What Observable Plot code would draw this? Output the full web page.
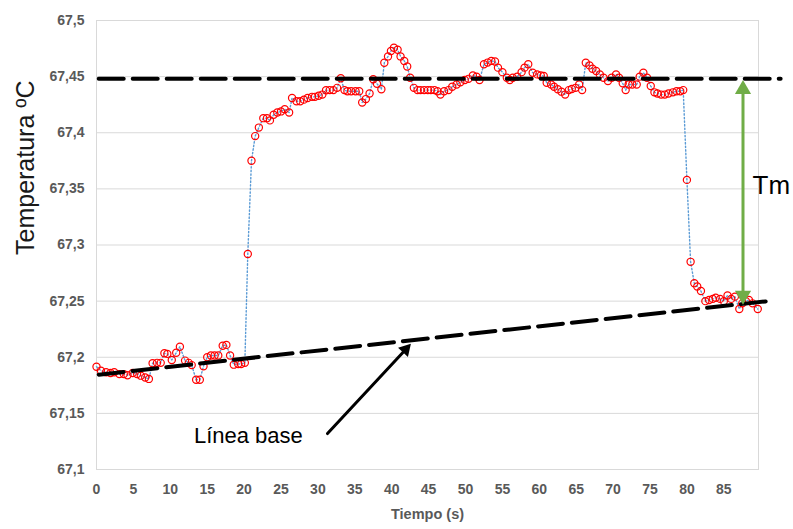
<!DOCTYPE html>
<html>
<head>
<meta charset="utf-8">
<script src="https://cdn.jsdelivr.net/npm/d3@7"></script>
<script src="https://cdn.jsdelivr.net/npm/@observablehq/plot@0.6"></script>
<style>
  html, body { margin: 0; padding: 0; background: #fff; }
  #chart svg { display: block; }
</style>
</head>
<body>
<div id="chart"></div>
<script>
// ---- Data ----
const timeS = [
  0, 0.6, 1.3, 1.9, 2.4, 3.1, 3.7, 4.2, 4.9, 5.5,
  6.0, 6.6, 7.1, 7.6, 8.2, 8.7, 9.2, 9.6, 10.2, 10.8,
  11.3, 12.0, 12.5, 12.9, 13.5, 14.0, 14.5, 15.0, 15.5, 16.0,
  16.5, 17.1, 17.6, 18.1, 18.6, 19.2, 19.6, 20.1, 20.5, 21.0,
  21.5, 22.0, 22.6, 23.1, 23.5, 24.0, 24.5, 25.0, 25.5, 26.1,
  26.5, 27.1, 27.6, 28.1, 28.6, 29.2, 29.6, 30.1, 30.6, 31.1,
  31.6, 32.1, 32.6, 33.1, 33.6, 34.0, 34.5, 35.1, 35.6, 36.0,
  36.5, 37.0, 37.5, 38.0, 38.6, 39.0, 39.5, 39.9, 40.3, 40.8,
  41.2, 41.7, 42.1, 42.5, 43.0, 43.5, 43.9, 44.4, 44.9, 45.3,
  45.8, 46.2, 46.6, 47.1, 47.7, 48.2, 48.8, 49.3, 49.9, 50.4,
  51.0, 51.5, 51.9, 52.5, 53.0, 53.5, 54.0, 54.4, 55.0, 55.6,
  56.0, 56.4, 57.0, 57.6, 58.0, 58.5, 59.1, 59.7, 60.2, 60.6,
  61.0, 61.6, 62.0, 62.5, 63.0, 63.5, 64.0, 64.4, 64.9, 65.4,
  65.8, 66.3, 66.8, 67.2, 67.7, 68.2, 68.7, 69.3, 69.8, 70.4,
  70.8, 71.3, 71.7, 72.1, 72.6, 73.2, 73.6, 74.1, 74.6, 75.1,
  75.6, 76.0, 76.5, 77.0, 77.5, 78.1, 78.6, 79.1, 79.5, 80.0,
  80.5, 81.0, 81.4, 81.9, 82.5, 83.0, 83.5, 83.9, 84.5, 85.0,
  85.5, 86.0, 86.5, 87.1, 87.5, 88.0, 88.4, 88.9, 89.6
];
const temperature = [
  67.1916, 67.188, 67.1866, 67.186, 67.1866, 67.185, 67.185, 67.184, 67.186, 67.185,
  67.1836, 67.182, 67.1807, 67.1946, 67.195, 67.195, 67.2035, 67.203, 67.1976, 67.204,
  67.2094, 67.197, 67.195, 67.193, 67.18, 67.18, 67.192, 67.2, 67.2015, 67.2015,
  67.2015, 67.2103, 67.211, 67.2015, 67.1934, 67.194, 67.194, 67.195, 67.292, 67.375,
  67.397, 67.4046, 67.413, 67.413, 67.411, 67.416, 67.418, 67.419, 67.421, 67.418,
  67.431, 67.428, 67.428, 67.4295, 67.431, 67.432, 67.432, 67.433, 67.434, 67.4378,
  67.438, 67.438, 67.44, 67.4485, 67.438, 67.437, 67.437, 67.437, 67.437, 67.427,
  67.43, 67.435, 67.4476, 67.4437, 67.4387, 67.4624, 67.468, 67.4728, 67.4757, 67.474,
  67.468, 67.464, 67.459, 67.449, 67.44, 67.438, 67.438, 67.438, 67.438, 67.438,
  67.438, 67.437, 67.434, 67.437, 67.438, 67.441, 67.443, 67.445, 67.447, 67.448,
  67.451, 67.45, 67.447, 67.461, 67.4625, 67.464, 67.4635, 67.458, 67.454, 67.449,
  67.447, 67.449, 67.45, 67.454, 67.458, 67.461, 67.4535, 67.452, 67.451, 67.4505,
  67.4446, 67.443, 67.441, 67.4387, 67.4366, 67.434, 67.438, 67.439, 67.44, 67.443,
  67.438, 67.4624, 67.46, 67.457, 67.455, 67.452, 67.449, 67.446, 67.449, 67.452,
  67.449, 67.444, 67.438, 67.443, 67.443, 67.443, 67.45, 67.4535, 67.449, 67.4416,
  67.436, 67.435, 67.434, 67.434, 67.435, 67.436, 67.437, 67.437, 67.438, 67.358,
  67.285, 67.266, 67.263, 67.259, 67.25, 67.251, 67.252, 67.253, 67.252, 67.25,
  67.255, 67.252, 67.254, 67.243, 67.248, 67.25, 67.251, 67.248, 67.243
];

// Axis ticks and labels
const xTicks = [0, 5, 10, 15, 20, 25, 30, 35, 40, 45, 50, 55, 60, 65, 70, 75, 80, 85];
const yTicks = [67.1, 67.15, 67.2, 67.25, 67.3, 67.35, 67.4, 67.45, 67.5];
const yTickLabels = ["67,1", "67,15", "67,2", "67,25", "67,3", "67,35", "67,4", "67,45", "67,5"];
const xTitle = "Tiempo (s)";
const yTitle = "Temperatura ºC";

// Annotation lines (data coordinates)
const plateauLineX = [0.3, 92.7];
const plateauLineY = [67.448, 67.448];
const baseLineX = [0.3, 91.0];
const baseLineY = [67.1845, 67.250];
const tmArrowX = 87.6;
const tmArrowY = [67.2468, 67.447];
const tmLabel = {text: "Tm", x: 88.9, y: 67.3527};
const baseLabel = {text: "Línea base", x: 13.2, y: 67.130};
const baseArrow = {x1: 31.3, y1: 67.132, x2: 42.6, y2: 67.212};

// ---- Build ----
const points = timeS.map((t, i) => ({t, T: temperature[i]}));
const plateau = plateauLineX.map((x, i) => ({x, y: plateauLineY[i]}));
const baseline = baseLineX.map((x, i) => ({x, y: baseLineY[i]}));
const yLabelMap = new Map(yTicks.map((d, i) => [d, yTickLabels[i]]));

const green = "#70AD47";
const tickStyle = {fontSize: 14, fontWeight: "bold", fill: "#595959"};

const chart = Plot.plot({
  width: 793,
  height: 529,
  marginLeft: 96,
  marginRight: 35,
  marginTop: 20,
  marginBottom: 60,
  style: {fontFamily: "'Liberation Sans', Arial, sans-serif", background: "#ffffff", overflow: "visible"},
  x: {domain: [0, 89.7]},
  y: {domain: [67.1, 67.5]},
  marks: [
    Plot.gridY(yTicks, {stroke: "#d9d9d9", strokeOpacity: 1, strokeWidth: 1}),
    Plot.frame({stroke: "#d9d9d9", strokeWidth: 1}),
    Plot.axisY(yTicks, {tickSize: 0, tickPadding: 12, tickFormat: d => yLabelMap.get(d), label: null, ...tickStyle}),
    Plot.axisX(xTicks, {tickSize: 0, tickPadding: 15, tickFormat: d => String(d), label: null, ...tickStyle}),
    Plot.text([xTitle], {frameAnchor: "bottom", dy: 49, fontSize: 14.5, fontWeight: "bold", fill: "#595959"}),
    Plot.text([yTitle], {frameAnchor: "left", dx: -71, dy: 10, rotate: -90, fontSize: 25, fill: "#1a1a1a"}),
    // data
    Plot.line(points, {x: "t", y: "T", stroke: "#5B9BD5", strokeWidth: 1.4, strokeDasharray: "1.4,2.2"}),
    Plot.dot(points, {x: "t", y: "T", r: 3.6, stroke: "#FF0000", strokeWidth: 1.2, fill: "none"}),
    // dashed reference lines
    Plot.line(plateau, {x: "x", y: "y", stroke: "#000", strokeWidth: 4, strokeDasharray: "25,9"}),
    Plot.line(baseline, {x: "x", y: "y", stroke: "#000", strokeWidth: 4, strokeDasharray: "25,9"}),
    // Tm double arrow
    Plot.arrow([{}], {x1: () => tmArrowX, y1: () => tmArrowY[0], x2: () => tmArrowX, y2: () => tmArrowY[1],
      stroke: green, strokeWidth: 3, headLength: 0, insetStart: 10, insetEnd: 10}),
    Plot.dot([{x: tmArrowX, y: tmArrowY[1]}], {x: "x", y: "y", symbol: "triangle", r: 6, fill: green, stroke: "none", dy: 9.3}),
    Plot.dot([{x: tmArrowX, y: tmArrowY[0]}], {x: "x", y: "y", symbol: "triangle", r: 6, fill: green, stroke: "none", rotate: 180, dy: -9.3}),
    Plot.text([tmLabel], {x: "x", y: "y", text: "text", textAnchor: "start", fontSize: 26, fill: "#000"}),
    // Línea base arrow
    Plot.arrow([baseArrow], {x1: "x1", y1: "y1", x2: "x2", y2: "y2", stroke: "#000", strokeWidth: 3, headLength: 0, insetEnd: 7}),
    Plot.dot([baseArrow], {x: "x2", y: "y2", symbol: "triangle", r: 5, fill: "#000", stroke: "none", rotate: 42.7, dx: -5.27, dy: 5.72}),
    Plot.text([baseLabel], {x: "x", y: "y", text: "text", textAnchor: "start", fontSize: 22, fill: "#000"})
  ]
});
document.getElementById("chart").appendChild(chart);
</script>
</body>
</html>
